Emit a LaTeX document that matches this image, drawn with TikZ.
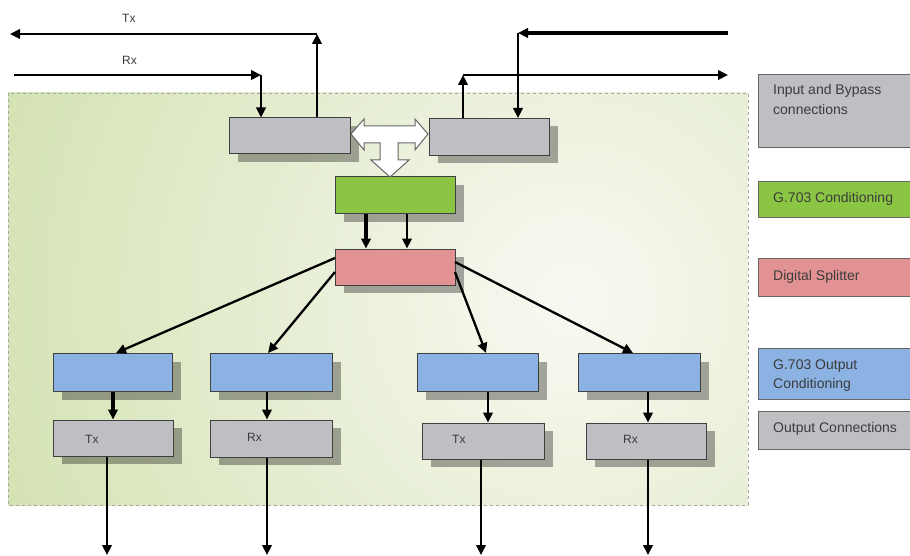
\documentclass[tikz,border=0pt]{standalone}
\usepackage{fontspec}
\setmainfont{Liberation Sans}
\usetikzlibrary{arrows.meta,shadows,calc}
\definecolor{boxgray}{RGB}{190,190,195}
\definecolor{boxgreen}{RGB}{138,198,68}
\definecolor{boxred}{RGB}{226,146,146}
\definecolor{boxblue}{RGB}{139,178,226}
\definecolor{panelgreen}{RGB}{182,208,128}
\definecolor{panellight}{RGB}{248,249,242}
\definecolor{txtcol}{RGB}{60,60,60}
\begin{document}
\begin{tikzpicture}[x=1pt,y=-1pt,
  box/.style={draw=black!75, line width=1pt, inner sep=0pt, minimum width=120pt, minimum height=36pt,
     drop shadow={shadow xshift=9pt, shadow yshift=-8pt, fill=black, opacity=0.33}},
  graybox/.style={box, fill=boxgray},
  greenbox/.style={box, fill=boxgreen},
  redbox/.style={box, fill=boxred},
  bluebox/.style={box, fill=boxblue, minimum height=38pt},
  leg/.style={draw=black!60, line width=0.9pt, anchor=north west, inner sep=0pt, minimum width=170pt},
  arr/.style={line width=2.3pt, line join=miter, -{Triangle[length=10pt,width=9.5pt]}},
  thickarr/.style={arr, line width=3.2pt},
  lbl/.style={font=\fontsize{14}{16}\selectfont, text=txtcol, anchor=base west, inner sep=0pt},
  small/.style={font=\fontsize{12}{14}\selectfont, text=txtcol, anchor=base west, inner sep=0pt}
]
\useasboundingbox (0,0) rectangle (910,556);
\clip (0,0) rectangle (910,556);
\fill[white] (0,0) rectangle (910,556);

% panel
\begin{scope}
  \clip (8,93) rectangle (748,505);
  \shade[inner color=panellight, outer color=panelgreen] (570,300) circle (1100pt);
\end{scope}
\draw[black!35, dashed, line width=0.7pt] (8,93) rectangle (748,505);

% boxes
\node[graybox, minimum width=121pt] (topL) at (289.5,136) {};
\node[graybox, minimum height=37pt] (topR) at (489,137) {};
\node[greenbox, minimum height=37pt] (green) at (395,195.5) {};
\node[redbox] (red) at (395,267) {};

\node[bluebox, minimum width=119pt] (blue1) at (112.5,372.5) {};
\node[bluebox, minimum width=122pt] (blue2) at (271,372.5) {};
\node[bluebox, minimum width=121pt] (blue3) at (477.5,372.5) {};
\node[bluebox, minimum width=122pt] (blue4) at (639,372.5) {};

\node[graybox] (gray1) at (113,438) {};
\node[graybox, minimum width=122pt, minimum height=37pt] (gray2) at (271,438.5) {};
\node[graybox, minimum width=122pt] (gray3) at (483,441) {};
\node[graybox] (gray4) at (646,441) {};

\node[small] (t1) at (85,443) {Tx};
\node[small] (t2) at (247,441) {Rx};
\node[small] (t3) at (452,443) {Tx};
\node[small] (t4) at (623,443) {Rx};

% T-shaped white arrow
\draw[fill=white, draw=black!60, line width=1pt, line join=miter] (351,134) -- (364,119) -- (364,126) -- (415,126) -- (415,119) -- (428,134) -- (415,150) -- (415,143) -- (398,143) -- (398,160) -- (409,160) -- (390,177) -- (371,160) -- (380,160) -- (380,143) -- (364,143) -- (364,150) -- cycle;

% top-left connections
\coordinate (txC) at (317,34);
\coordinate (txEnd) at (10,34);
\coordinate (rxStart) at (14,75);
\coordinate (rxC) at (261,75);
\draw[arr] (topL.north -| txC) -- (txC);
\draw[arr] (txC) -- (txEnd);
\draw[arr] (rxStart) -- (rxC);
\draw[arr] (rxC) -- (rxC |- topL.north);
\node[small] (txl) at (122,23) {Tx};
\node[small] (rxl) at (122,65) {Rx};

% top-right connections
\coordinate (inStart) at (728,33);
\coordinate (inC) at (518,33);
\coordinate (outC) at (463,75);
\coordinate (outEnd) at (728,75);
\draw[arr, line width=4.2pt] (inStart) -- (inC);
\draw[arr] (inC) -- (inC |- topR.north);
\draw[arr] (topR.north -| outC) -- (outC);
\draw[arr] (outC) -- (outEnd);

% green to red
\coordinate (gr1) at (366,0);
\coordinate (gr2) at (407,0);
\draw[thickarr] (green.south -| gr1) -- (red.north -| gr1);
\draw[arr] (green.south -| gr2) -- (red.north -| gr2);

% red to blue
\coordinate (r1) at (335,258);
\coordinate (r2) at (335,272);
\coordinate (r3) at (455,272);
\coordinate (r4) at (455,262);
\coordinate (b1) at (116,0);
\coordinate (b2) at (268,0);
\coordinate (b3) at (486,0);
\coordinate (b4) at (633,0);
\draw[arr] (r1) -- (blue1.north -| b1);
\draw[arr] (r2) -- (blue2.north -| b2);
\draw[arr] (r3) -- (blue3.north -| b3);
\draw[arr] (r4) -- (blue4.north -| b4);

% blue to gray
\coordinate (bg1) at (113,0);
\coordinate (bg2) at (267,0);
\coordinate (bg3) at (488,0);
\coordinate (bg4) at (648,0);
\draw[thickarr] (blue1.south -| bg1) -- (gray1.north -| bg1);
\draw[arr] (blue2.south -| bg2) -- (gray2.north -| bg2);
\draw[arr] (blue3.south -| bg3) -- (gray3.north -| bg3);
\draw[arr] (blue4.south -| bg4) -- (gray4.north -| bg4);

% outputs
\coordinate (o1) at (107,555);
\coordinate (o2) at (267,555);
\coordinate (o3) at (481,555);
\coordinate (o4) at (648,555);
\draw[arr] (gray1.south -| o1) -- (o1);
\draw[arr] (gray2.south -| o2) -- (o2);
\draw[arr] (gray3.south -| o3) -- (o3);
\draw[arr] (gray4.south -| o4) -- (o4);

% legend
\node[leg, fill=boxgray, minimum height=73pt] (lIn) at (758,74) {};
\node[leg, fill=boxgreen, minimum height=36pt] (lGreen) at (758,181) {};
\node[leg, fill=boxred, minimum height=38pt] (lRed) at (758,258) {};
\node[leg, fill=boxblue, minimum height=51pt] (lBlue) at (758,348) {};
\node[leg, fill=boxgray, minimum height=38pt] (lOut) at (758,411) {};

\node[lbl] (tIn1) at (773,95) {Input and Bypass};
\node[lbl] (tIn2) at (773,115) {connections};
\node[lbl] (tGreen) at (773,203) {G.703 Conditioning};
\node[lbl] (tRed) at (773,280) {Digital Splitter};
\node[lbl] (tBlue1) at (773,369) {G.703 Output};
\node[lbl] (tBlue2) at (773,388) {Conditioning};
\node[lbl] (tOut) at (773,432) {Output Connections};
\end{tikzpicture}
\end{document}
